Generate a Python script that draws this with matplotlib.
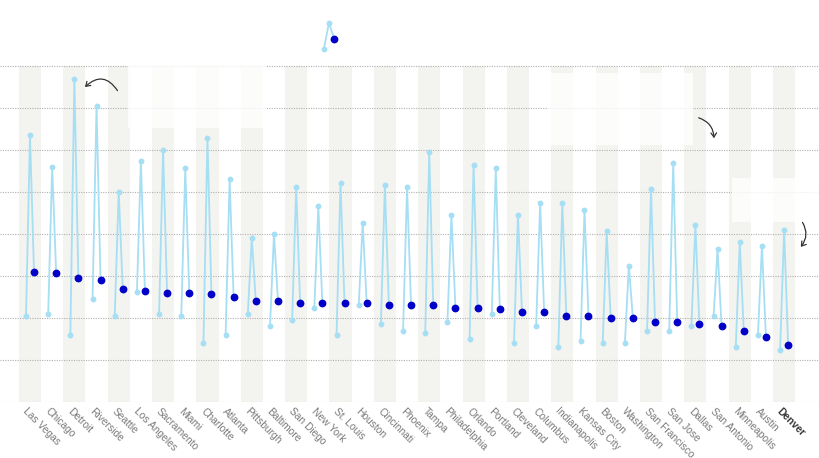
"""
Price ranges by metro: a low-high-current zigzag per city on alternating
column bands, dotted horizontal gridlines, rotated city names underneath.
"""
import matplotlib

matplotlib.use("Agg")
import matplotlib.pyplot as plt  # noqa: E402
from matplotlib.patches import FancyArrowPatch, Rectangle  # noqa: E402

CITIES = ["Las Vegas", "Chicago", "Detroit", "Riverside", "Seattle",
          "Los Angeles", "Sacramento", "Miami", "Charlotte", "Atlanta",
          "Pittsburgh", "Baltimore", "San Diego", "New York", "St. Louis",
          "Houston", "Cincinnati", "Phoenix", "Tampa", "Philadelphia",
          "Orlando", "Portland", "Cleveland", "Columbus", "Indianapolis",
          "Kansas City", "Boston", "Washington", "San Francisco", "San Jose",
          "Dallas", "San Antonio", "Minneapolis", "Austin", "Denver"]
LOW = [2.05, 2.10, 1.60, 2.45, 2.05, 2.61, 2.10, 2.05, 1.40, 1.60,
       2.10, 1.80, 1.95, 2.25, 1.60, 2.30, 1.85, 1.70, 1.65, 1.90,
       1.50, 2.10, 1.40, 1.80, 1.30, 1.45, 1.40, 1.40, 1.70, 1.70,
       1.80, 2.05, 1.30, 1.60, 1.25]
HIGH = [6.36, 5.60, 7.70, 7.05, 5.01, 5.75, 6.00, 5.56, 6.29, 5.31,
        3.91, 4.01, 5.11, 4.66, 5.21, 4.26, 5.16, 5.11, 5.95, 4.46,
        5.65, 5.56, 4.46, 4.75, 4.75, 4.56, 4.06, 3.25, 5.06, 5.70,
        4.21, 3.65, 3.80, 3.71, 4.10]
CURRENT = [3.10, 3.06, 2.95, 2.90, 2.70, 2.65, 2.60, 2.60, 2.56, 2.50,
           2.40, 2.40, 2.35, 2.35, 2.35, 2.35, 2.30, 2.30, 2.30, 2.25,
           2.25, 2.21, 2.15, 2.15, 2.05, 2.05, 2.00, 2.00, 1.90, 1.90,
           1.85, 1.80, 1.70, 1.55, 1.35]
HIGHLIGHT = "Denver"
GRID_LEVELS = [0, 1, 2, 3, 4, 5, 6, 7, 8]

# legend key floating above the plot: low, high, current
LEGEND_X = 13.48
LEGEND_VALUES = [8.40, 9.03, 8.64]

LIGHT = "#a6def4"
DARK = "#0000c8"
BAND = "#f3f3f0"
OFF = 0.18  # horizontal offset of the low / current point within a column

W, H = 820, 458
STEP = 22.18          # pixels per city
X0, Y0, UNIT = 30, 402, 42


def px(x, y):
    """Pixel position in the picture -> data coordinates (for decorations)."""
    return (x - X0) / STEP, (Y0 - y) / UNIT


fig = plt.figure(figsize=(W / 100, H / 100), dpi=100)
fig.patch.set_facecolor("white")
ax = fig.add_axes([0, 1 - Y0 / H, 1, Y0 / H])
ax.set_xlim(px(0, 0)[0], px(W, 0)[0])
ax.set_ylim(0, Y0 / UNIT)
ax.axis("off")

n = len(CITIES)
top = max(GRID_LEVELS)
for i in range(0, n, 2):
    ax.add_patch(Rectangle((i - 0.5, 0), 1, top, color=BAND, lw=0, zorder=0))

for level in GRID_LEVELS:
    ax.axhline(level, color="#b0b0b0", lw=0.8, ls=(0, (1, 1.2)), zorder=1)

# annotation panels (their text is not shown in the source)
for (x1, y1, x2, y2) in [(128, 66, 266, 128), (548, 73, 693, 145),
                         (732, 178, 820, 222)]:
    (a, b), (c, d) = px(x1, y2), px(x2, y1)
    ax.add_patch(Rectangle((a, b), c - a, d - b, color="white", alpha=0.8,
                           lw=0, zorder=1.5))

for i in range(n):
    xs = [i - OFF, i, i + OFF]
    ys = [LOW[i], HIGH[i], CURRENT[i]]
    ax.plot(xs, ys, color=LIGHT, lw=1.3, zorder=2, solid_joinstyle="miter")
    ax.plot(xs[:2], ys[:2], ls="none", marker="o", ms=3.2, color=LIGHT,
            zorder=3)
    ax.plot(xs[2], ys[2], ls="none", marker="o", ms=4.6, color=DARK, zorder=4)

lx = [LEGEND_X - OFF * 1.3, LEGEND_X, LEGEND_X + OFF * 1.3]
ax.plot(lx, LEGEND_VALUES, color=LIGHT, lw=1.3, clip_on=False, zorder=2)
ax.plot(lx[:2], LEGEND_VALUES[:2], ls="none", marker="o", ms=3.2,
        color=LIGHT, clip_on=False, zorder=3)
ax.plot(lx[2], LEGEND_VALUES[2], ls="none", marker="o", ms=4.6, color=DARK,
        clip_on=False, zorder=4)

for start, end, rad in [((119, 93), (83, 89), 0.65),
                        ((696, 117), (714, 141), -0.4),
                        ((801, 220), (799, 249), -0.4)]:
    ax.add_patch(FancyArrowPatch(px(*start), px(*end),
                                 connectionstyle=f"arc3,rad={rad}",
                                 arrowstyle="->,head_length=3,head_width=2",
                                 color="#333333", lw=0.9, zorder=5))

for i, city in enumerate(CITIES):
    bold = city == HIGHLIGHT
    ax.text(i - 0.08, -0.1, city, rotation=-45, rotation_mode="anchor",
            ha="left", va="top", fontsize=7.4, family="Liberation Sans",
            color="#333333" if bold else "#7a7a7a",
            fontweight="bold" if bold else "normal", clip_on=False)

fig.savefig("out.png", dpi=100, facecolor="white")
